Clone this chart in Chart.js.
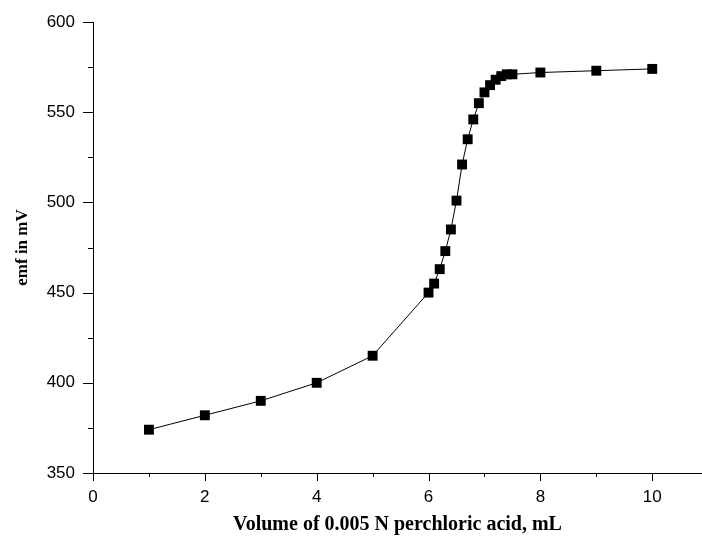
<!DOCTYPE html>
<html>
<head>
<meta charset="utf-8">
<script src="https://cdn.jsdelivr.net/npm/chart.js@4.4.0/dist/chart.umd.min.js"></script>
<style>
html,body{margin:0;padding:0;background:#fff;}
#wrap{width:702px;height:539px;}
</style>
</head>
<body>
<div id="wrap"><canvas id="c" width="702" height="539"></canvas></div>
<script>
const volumes = [1, 2, 3, 4, 5, 6, 6.1, 6.2, 6.3, 6.4, 6.5, 6.6, 6.7, 6.8, 6.9, 7.0, 7.1, 7.2, 7.3, 7.4, 7.5, 8, 9, 10];
const emf = [374, 382, 390, 400, 415, 450, 455, 463, 473, 485, 501, 521, 535, 546, 555, 561, 565, 568, 570, 571, 571, 572, 573, 574];
const xTickValues = [0, 2, 4, 6, 8, 10];
const yTickValues = [350, 400, 450, 500, 550, 600];
const xTitle = 'Volume of 0.005 N perchloric acid, mL';
const yTitle = 'emf in mV';

const points = volumes.map((v, i) => ({x: v, y: emf[i]}));

function zeroPadding(scale) {
  scale.paddingTop = 0; scale.paddingBottom = 0;
  scale.paddingLeft = 0; scale.paddingRight = 0;
}

const tickMarks = {
  id: 'tickMarks',
  afterDraw(chart) {
    const ctx = chart.ctx;
    const xs = chart.scales.x, ys = chart.scales.y;
    ctx.save();
    ctx.strokeStyle = '#000';
    ctx.lineWidth = 1;
    ctx.beginPath();
    for (let v = 0; v <= 10; v += 1) {
      const px = Math.round(xs.getPixelForValue(v)) + 0.5;
      const len = (v % 2 === 0) ? 8 : 4;
      ctx.moveTo(px, ys.bottom);
      ctx.lineTo(px, ys.bottom + len);
    }
    for (let v = 350; v <= 600; v += 25) {
      const py = Math.round(ys.getPixelForValue(v)) + 0.5;
      const len = (v % 50 === 0) ? 10 : 5;
      ctx.moveTo(xs.left, py);
      ctx.lineTo(xs.left - len, py);
    }
    ctx.stroke();
    ctx.restore();
  }
};

new Chart(document.getElementById('c'), {
  type: 'line',
  data: {
    datasets: [{
      data: points,
      borderColor: '#000',
      borderWidth: 1,
      backgroundColor: '#000',
      pointStyle: 'rect',
      pointRadius: 7,
      pointBorderWidth: 0,
      pointBackgroundColor: '#000',
      tension: 0,
      clip: false
    }]
  },
  options: {
    responsive: false,
    animation: false,
    layout: {autoPadding: false, padding: {top: 22, right: 0, left: 0, bottom: 0}},
    plugins: {legend: {display: false}, tooltip: {enabled: false}},
    scales: {
      x: {
        type: 'linear',
        min: 0,
        max: 10.89,
        afterBuildTicks(scale) { scale.ticks = xTickValues.map(v => ({value: v})); },
        afterFit(scale) { scale.height = 66; zeroPadding(scale); },
        grid: {display: true, drawOnChartArea: false, drawTicks: false},
        border: {display: true, color: '#000', width: 1},
        ticks: {color: '#000', padding: 14, maxRotation: 0, font: {family: 'Liberation Sans', size: 17}},
        title: {display: true, text: xTitle, color: '#000', padding: {top: 0, bottom: 2},
                font: {family: 'Liberation Serif', size: 20, weight: 'bold'}}
      },
      y: {
        type: 'linear',
        min: 350,
        max: 600,
        afterBuildTicks(scale) { scale.ticks = yTickValues.map(v => ({value: v})); },
        afterFit(scale) { scale.width = 93; zeroPadding(scale); },
        grid: {display: true, drawOnChartArea: false, drawTicks: false},
        border: {display: true, color: '#000', width: 1},
        ticks: {color: '#000', padding: 18, font: {family: 'Liberation Sans', size: 17}},
        title: {display: true, text: yTitle, color: '#000', padding: {top: 12, bottom: 0},
                font: {family: 'Liberation Serif', size: 17, weight: 'bold'}}
      }
    }
  },
  plugins: [tickMarks]
});
</script>
</body>
</html>
